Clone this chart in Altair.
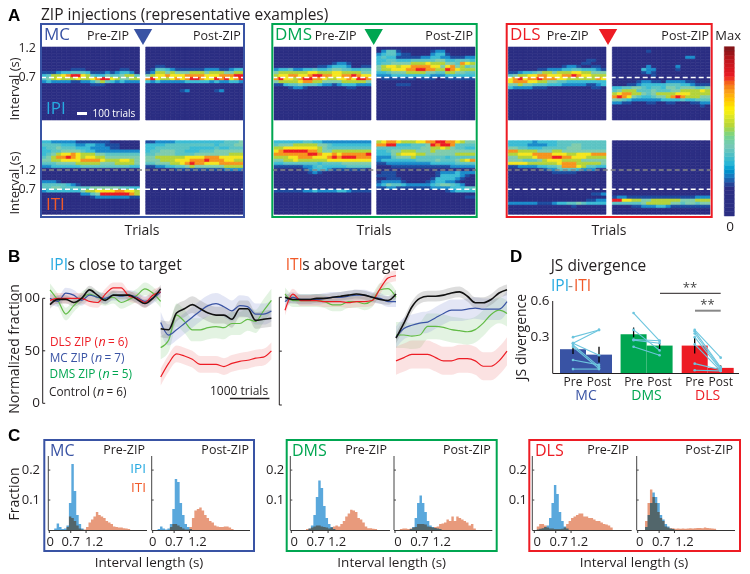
import altair as alt
import pandas as pd

FONT = "Open Sans"
INK = "#231f20"
BLUE, GREEN, RED = "#3953a4", "#00a651", "#ed1c24"
CYAN, ORANGE = "#27aae1", "#f15a29"
HEAT_COLORS = ["#2b2e83", "#1d4c9f", "#1a8ccb", "#3bbcd5", "#5cc4c4", "#80ccad", "#b4d33a", "#f5e61e", "#f7941d", "#ed1c24"]
BAR_STOPS = [0, 1.7, 2.3, 3.1, 4.2, 5.3, 6.3, 7.5, 8.2, 9.2, 10]
BAR_COLORS = ["#2b2e83", "#2b2e83", "#1f75bc", "#27b5d6", "#7cc8b5", "#b4d33a", "#fff200", "#f7941d", "#ed1c24", "#c0161c", "#7a1417"]

# ---------- panel A: heat maps, rows from the top, one digit per column ----------
H_MC_PRE_IPI = {7: "00000011100000001100", 8: "11123344431112123320", 9: "34667899764335445664",
                10: "45676667667899765566", 11: "23222211223564323222", 12: "00000000001110000000"}
H_MC_POST_IPI = {6: "00110000000000000000", 7: "01443211111122211233", 8: "12665655566656665566",
                 9: "56778777888877788899", 10: "89766787899877989789", 11: "32322222333332322332",
                 14: "00000001200000120000"}
H_DMS_PRE_IPI = {5: "00000000000012210000", 6: "00000000011233320011", 7: "23342233433455443344",
                 8: "56666667766677666655", 9: "67788778998877889877", 10: "89776899887667787998",
                 11: "56666788665555666665", 12: "11344544432212333222", 13: "00012210000000011000"}
H_DMS_POST_IPI = {1: "02441000000122000000", 2: "23442110000233100000", 3: "34331111122332211122",
                  4: "33443334444455334443", 5: "34455556667666554876", 6: "56776778888775785645",
                  7: "56677788998866987666", 8: "33455566665544665544", 9: "22233333333222333333",
                  10: "01111111011100111111", 12: "00001110000000000000"}
H_DLS_PRE_IPI = {4: "00000000000000001100", 5: "00000000000000011000", 6: "00000000000122100110",
                 7: "00000011222334433321", 8: "11233456656667766555", 9: "45667788777889877666",
                 10: "78978898887766666687", 11: "78887766554433333333", 12: "55655444333222221123",
                 13: "32222111000000000110"}
H_DLS_POST_IPI = {1: "00000001000000000000", 3: "00000000000000022000", 6: "00000002000002000000",
                  7: "00000032200001000000", 8: "00000012100000000000", 9: "00000000100000000000",
                  11: "00000122110222211000", 12: "00011233333444332111", 13: "33445543443554555445",
                  14: "45666444544455666676", 15: "67886654566667776666", 16: "89875433455689866655",
                  17: "55432222223333433444", 18: "22110001100110001122", 19: "00000000000000000010"}
H_MC_PRE_ITI = {0: "33222221111111000000", 1: "44443332233221110000", 2: "34454443332222110000",
                3: "33445555433222222222", 4: "34567787666554444444", 5: "45688987677665555555",
                6: "55667777888876667765", 7: "44455556666655566665", 8: "22333333444444444433",
                13: "22210000000000000000", 14: "44444321000000000000", 15: "44554444445555554433",
                16: "23333333566777788776", 17: "00000000224599999986", 18: "00000000001222222211"}
H_MC_POST_ITI = {0: "11222233333333334445", 1: "33334444444444344455", 2: "33444444433333433444",
                 3: "34455544333444555555", 4: "44555544445555555666", 5: "55666666777788877777",
                 6: "55566677788898887766", 7: "44555667898877788888", 8: "11223344565555556666",
                 9: "00000011111111112222"}
H_DMS_PRE_ITI = {0: "33333344332222222222", 1: "45556666655433333333", 2: "66777777765444444444",
                 3: "78999998865566666666", 4: "88888889987787888889", 5: "66677888777898999888",
                 6: "55667666666777777777", 7: "33444444434444555555", 8: "11111122343333344444",
                 9: "00000012333211111110", 10: "00000001210000000000", 16: "11111122322223321111"}
H_DMS_POST_ITI = {0: "67887666778899887655", 1: "88993334445989984444", 2: "44444444455667654433",
                  3: "33455666555655555555", 4: "33356777665555556666", 5: "22245556444444344444",
                  6: "23333333444454445678", 7: "11222222222333334444", 8: "00011111111111122222",
                  10: "01110000000012223222", 11: "11110000000013333210", 12: "00111000000133332100",
                  13: "12222100001233221000", 14: "23544322222345543200", 15: "11221111111222233344",
                  16: "00000000000000123333", 18: "00000000000000000011"}
H_DLS_PRE_ITI = {0: "33333233334444444444", 1: "33332222334445544444", 2: "55443334444455544444",
                 3: "88666655566555555555", 4: "66777888877766777888", 5: "55666788899887776666",
                 6: "55544456777666655555", 7: "77776666667888666665", 8: "11222233445888764433",
                 9: "00000001224444322200", 10: "00000000011111000000", 17: "00000000000000000112",
                 19: "00000000000000001122", 20: "22222211123344543333", 21: "00000000000001000000"}
H_DLS_POST_ITI = {18: "12211111111111111222", 19: "99776655666666555666", 20: "44444456666655455455",
                  21: "00001122233211111111"}

# ---------- panel B ----------
TRIALS_PRE = [-2800, -2600, -2400, -2200, -2000, -1800, -1600, -1400, -1200, -1000, -800, -600, -400, -200, 0]
TRIALS_POST = [0, 200, 400, 600, 800, 1000, 1200, 1400, 1600, 1800, 2000, 2200, 2400, 2600, 2800]
B1_PRE = {
    "black": [94, 99, 99, 96, 100, 108, 103, 98, 103, 103, 103, 99, 95, 100, 109],
    "blue": [100, 97, 105, 103, 98, 103, 101, 100, 103, 102, 103, 101, 97, 100, 106],
    "green": [108, 98, 85, 93, 100, 104, 101, 99, 101, 96, 99, 103, 109, 105, 97],
    "red": [98, 100, 100, 100, 100, 97, 96, 104, 110, 110, 102, 100, 96, 103, 106]}
B1_POST = {
    "black": [71, 70, 86, 90, 94, 90, 86, 84, 84, 80, 90, 90, 79, 80, 81],
    "blue": [77, 65, 70, 76, 82, 88, 93, 95, 92, 88, 93, 92, 85, 85, 88],
    "green": [53, 60, 84, 78, 70, 70, 72, 73, 72, 76, 76, 80, 78, 88, 98],
    "red": [25, 38, 47, 45, 42, 37, 37, 37, 35, 38, 40, 41, 43, 44, 50]}
B2_PRE = {
    "black": [100, 98, 98, 98, 99, 99, 100, 101, 102, 103, 102, 100, 98, 97, 103],
    "blue": [96, 100, 98, 98, 98, 99, 100, 100, 101, 102, 102, 100, 99, 96, 96],
    "green": [103, 97, 97, 97, 97, 96, 93, 93, 96, 96, 94, 97, 107, 108, 100],
    "red": [88, 103, 97, 97, 97, 96, 96, 96, 95, 96, 96, 97, 108, 118, 120]}
B2_POST = {
    "black": [62, 76, 91, 99, 101, 101, 102, 104, 105, 101, 95, 95, 98, 104, 107],
    "blue": [63, 71, 74, 76, 77, 81, 85, 88, 88, 89, 90, 89, 89, 89, 96],
    "green": [65, 65, 64, 65, 73, 73, 72, 70, 69, 68, 70, 76, 84, 88, 85],
    "red": [41, 44, 47, 47, 47, 44, 41, 41, 43, 43, 41, 36, 36, 41, 50]}
SEM_B1 = {"black": 8, "blue": 10, "green": 11, "red": 8}
SEM_B2 = {"black": 5, "blue": 10, "green": 12, "red": 13}
SEM_PRE = {"black": 4, "blue": 5, "green": 6, "red": 5}
LINE_COLORS = {"black": "#111111", "blue": BLUE, "green": "#62bb46", "red": RED}
BAND_COLORS = {"black": "#777777", "blue": "#8f9ad6", "green": "#8fce8a", "red": "#f08a8a"}

# ---------- panel C, bins of 0.08 s: (first bin, heights in thousandths) ----------
HIST = {
    "MC_PRE": ((2, [5, 22, 10, 3, 5, 15, 90, 220, 130, 50, 20, 5]),
               (7, [10, 45, 40, 30, 15, 5, 2, 2, 10, 25, 35, 45, 60, 50, 45, 40, 30, 25, 20, 12, 10, 8, 8, 6, 5, 3])),
    "MC_POST": ((2, [3, 12, 5, 2, 5, 20, 70, 170, 160, 90, 50, 20, 10, 3]),
                (7, [10, 20, 20, 15, 10, 5, 2, 2, 10, 40, 65, 70, 75, 65, 50, 40, 30, 25, 15, 12, 10, 10, 12, 12, 8, 3])),
    "DMS_PRE": ((7, [5, 15, 50, 110, 165, 140, 80, 40, 20, 10, 3]),
                (6, [3, 5, 8, 12, 15, 15, 12, 10, 8, 5, 8, 12, 15, 12, 20, 30, 45, 55, 68, 65, 60, 40, 35, 25, 12, 6, 6, 4, 3])),
    "DMS_POST": ((6, [3, 10, 40, 90, 115, 90, 60, 30, 15, 10, 7, 5, 3]),
                 (2, [3, 5, 5, 3, 5, 8, 10, 20, 20, 20, 18, 12, 10, 8, 10, 12, 20, 22, 25, 35, 30, 45, 30, 45, 40, 35, 30, 25, 15, 20, 5])),
    "DLS_PRE": ((1, [2, 4, 6, 10, 15, 40, 90, 150, 120, 60, 30, 12, 5]),
                (1, [12, 20, 20, 15, 8, 5, 5, 3, 3, 3, 4, 8, 20, 30, 40, 45, 50, 55, 55, 45, 45, 40, 40, 35, 30, 30, 25, 20, 18, 15, 8])),
    "DLS_POST": ((3, [10, 50, 90, 125, 110, 90, 50, 35, 20, 12, 5, 3]),
                 (3, [30, 90, 135, 110, 90, 60, 40, 30, 12, 8, 6, 6, 4, 5, 4, 5, 4, 5, 6, 5, 6, 7, 7, 6, 8, 7, 6, 5, 4])),
}

# ---------- panel D ----------
BAR_OFFSET = [0, 2.33, 4.68]
BAR_PRE = [0.20, 0.325, 0.23]
BAR_POST = [0.155, 0.23, 0.045]
BAR_FILL = [BLUE, GREEN, RED]
ERR_PRE = [(0.16, 0.245), (0.30, 0.38), (0.165, 0.30)]
ERR_POST = [(0.09, 0.22), (0.19, 0.25), (0.02, 0.065)]
PAIRS = [
    [(.30, .36), (.25, .36), (.25, .15), (.235, .055), (.22, .04), (.11, .07), (.035, .035)],
    [(.50, .27), (.36, .19), (.28, .27), (.275, .25), (.22, .15)],
    [(.36, .13), (.35, .05), (.33, .04), (.30, .03), (.24, .02), (.08, .03), (.025, .02)],
]
GROUPS = ["MC", "DMS", "DLS"]

layers = []


def S(dom, a, b):
    return alt.Scale(domain=dom, range=[a - 8, b - 8], zero=False, nice=False)


ONE = alt.Data(values=[{}])


def T(s, x, y, size=13, color=INK, align="left", angle=None, style=None, weight=None, font=FONT):
    kw = dict(fontSize=size, color=color, align=align, baseline="middle", font=font)
    if angle is not None:
        kw["angle"] = angle
    if style:
        kw["fontStyle"] = style
    if weight:
        kw["fontWeight"] = weight
    layers.append(alt.Chart(ONE).mark_text(**kw).encode(
        x=alt.value(x - 8), y=alt.value(y - 8), text=alt.value(s)))


def L(x1, x2, y1, y2, color=INK, w=1.0, dash=None):
    kw = dict(color=color, strokeWidth=w)
    if dash:
        kw["strokeDash"] = dash
    enc = dict(x=alt.value(x1 - 8), y=alt.value(y1 - 8))
    if x2 != x1:
        enc["x2"] = alt.value(x2 - 8)
    if y2 != y1:
        enc["y2"] = alt.value(y2 - 8)
    layers.append(alt.Chart(ONE).mark_rule(**kw).encode(**enc))


def frame(x1, x2, y1, y2, color):
    layers.append(alt.Chart(ONE).mark_rect(fillOpacity=0, stroke=color, strokeWidth=2).encode(
        x=alt.value(x1 - 8), x2=alt.value(x2 - 8), y=alt.value(y1 - 8), y2=alt.value(y2 - 8)))


def heat(rows, x1, x2, y_bot, y_top, dom, step):
    hi = dom[1]
    recs = []
    n = int(round((dom[1] - dom[0]) / step))
    for k in range(n):
        s = rows.get(k, "0" * 20)
        for c, ch in enumerate(s):
            recs.append(dict(c=c, c2=c + 1, top=hi - k * step, bot=max(dom[0], hi - (k + 1) * step), v=int(ch)))
    cs = alt.Scale(domain=list(range(10)), range=HEAT_COLORS)
    layers.append(alt.Chart(pd.DataFrame(recs)).mark_rect(strokeWidth=0.6).encode(
        x=alt.X("c:Q", scale=S([0, 20], x1, x2), axis=None), x2="c2:Q",
        y=alt.Y("bot:Q", scale=S(dom, y_bot, y_top), axis=None), y2="top:Q",
        color=alt.Color("v:Q", scale=cs, legend=None),
        stroke=alt.Stroke("v:Q", scale=cs, legend=None)))


# ---- A ----
T("A", 8, 16, 17, "#000", weight="bold", font="Liberation Sans")
T("ZIP injections (representative examples)", 41, 15, 15.5)
A_PANELS = [
    ("MC", BLUE, (41, 244), (41.7, 139.5), (145.7, 244), H_MC_PRE_IPI, H_MC_POST_IPI, H_MC_PRE_ITI, H_MC_POST_ITI, 143, 44, 108, 240.7),
    ("DMS", GREEN, (272.3, 476.7), (274, 371), (376.7, 475), H_DMS_PRE_IPI, H_DMS_POST_IPI, H_DMS_PRE_ITI, H_DMS_POST_ITI, 373.7, 275, 335.7, 473),
    ("DLS", RED, (506.7, 711.7), (508.3, 606), (612.3, 710), H_DLS_PRE_IPI, H_DLS_POST_IPI, H_DLS_PRE_ITI, H_DLS_POST_ITI, 608, 510, 567.7, 709),
]
IPI_DOM, ITI_DOM = [0, 1.2], [0.05, 1.96]
for name, col, fx, pre, post, h1, h2, h3, h4, tri, lx, prex, postx in A_PANELS:
    heat(h1, pre[0], pre[1], 120, 47, IPI_DOM, 0.05)
    heat(h2, post[0], post[1], 120, 47, IPI_DOM, 0.05)
    heat(h3, pre[0], pre[1], 214.3, 140.7, ITI_DOM, 0.0796)
    heat(h4, post[0], post[1], 214.3, 140.7, ITI_DOM, 0.0796)
    for v, c, dom, yb, yt in [(0.7, "#ffffff", IPI_DOM, 120, 47), (1.2, "#888888", ITI_DOM, 214.3, 140.7), (0.7, "#ffffff", ITI_DOM, 214.3, 140.7)]:
        layers.append(alt.Chart(pd.DataFrame({"v": [v]})).mark_rule(color=c, strokeWidth=1.5, strokeDash=[5, 3]).encode(
            y=alt.Y("v:Q", scale=S(dom, yb, yt), axis=None), x=alt.value(fx[0] - 8), x2=alt.value(fx[1] - 8)))
    frame(fx[0], fx[1], 24, 217, col)
    T(name, lx, 35, 17, col)
    T("Pre-ZIP", prex, 36, 12.5, align="center")
    T("Post-ZIP", postx, 36, 12.5, align="right")
    layers.append(alt.Chart(ONE).mark_point(shape="triangle-down", filled=True, opacity=1, size=340, color=col).encode(
        x=alt.value(tri - 8), y=alt.value(37 - 8)))

T("Interval (s)", 14.5, 89, 13, align="center", angle=270)
T("Interval (s)", 14.5, 183, 13, align="center", angle=270)
for s, y in [("1.2", 48), ("0.7", 77), ("1.2", 170), ("0.7", 189)]:
    T(s, 36, y, 12.5, align="right")
T("IPI", 46, 109, 17, CYAN)
T("ITI", 46, 205, 17, ORANGE)
L(77, 87, 113.5, 113.5, "#ffffff", 3)
T("100 trials", 92.5, 114, 10, "#ffffff")
for x in [142, 374, 609]:
    T("Trials", x, 231, 14, align="center")

# colour bar
cb = pd.DataFrame({"a": [i * 0.25 for i in range(40)], "b": [(i + 1) * 0.25 for i in range(40)], "v": [i * 0.25 + 0.125 for i in range(40)]})
cb_scale = alt.Scale(domain=BAR_STOPS, range=BAR_COLORS)
layers.append(alt.Chart(cb).mark_rect(strokeWidth=0.5).encode(
    y=alt.Y("a:Q", scale=S([0, 10], 216, 46.7), axis=None), y2="b:Q",
    x=alt.value(724.3 - 8), x2=alt.value(734.3 - 8),
    color=alt.Color("v:Q", scale=cb_scale, legend=None),
    stroke=alt.Stroke("v:Q", scale=cb_scale, legend=None)))
T("Max", 741, 36, 13, align="right")
T("0", 730, 227, 13.5, align="center")


# ---- B ----
def band_and_line(pre, post, sem, xs, ys, kind):
    for name in ["green", "blue", "red", "black"]:
        rows = []
        for seg, tr, vals, e in (("pre", TRIALS_PRE, pre[name], SEM_PRE[name]), ("post", TRIALS_POST, post[name], sem[name])):
            for t, v in zip(tr, vals):
                rows.append(dict(seg=seg, t=t, v=v, lo=v - e, hi=v + e))
        df = pd.DataFrame(rows)
        if kind == "band":
            layers.append(alt.Chart(df).mark_area(color=BAND_COLORS[name], opacity=0.25, interpolate="monotone").encode(
                x=alt.X("t:Q", scale=xs, axis=None), y=alt.Y("lo:Q", scale=ys, axis=None), y2="hi:Q", detail="seg:N"))
        else:
            layers.append(alt.Chart(df).mark_line(color=LINE_COLORS[name], strokeWidth=1.6 if name == "black" else 1.2, interpolate="monotone").encode(
                x=alt.X("t:Q", scale=xs, axis=None), y=alt.Y("v:Q", scale=ys, axis=None), detail="seg:N"))


xs1, ys1 = S([-2800, 2800], 50, 271.4), S([0, 100], 403.3, 298.3)
xs2, ys2 = S([-2800, 2800], 285, 507), S([0, 100], 405, 297.3)
for k in ("band", "line"):
    band_and_line(B1_PRE, B1_POST, SEM_B1, xs1, ys1, k)
    band_and_line(B2_PRE, B2_POST, SEM_B2, xs2, ys2, k)

for ax, ys in ((42.7, ys1), (279.3, ys2)):
    layers.append(alt.Chart(pd.DataFrame({"a": [0], "b": [100]})).mark_rule(color=INK, strokeWidth=1).encode(
        x=alt.value(ax - 8), y=alt.Y("a:Q", scale=ys, axis=None), y2="b:Q"))
    layers.append(alt.Chart(pd.DataFrame({"a": [0, 50, 100]})).mark_rule(color=INK, strokeWidth=1).encode(
        x=alt.value(ax - 8), x2=alt.value(ax - 8 + 2.5), y=alt.Y("a:Q", scale=ys, axis=None)))
layers.append(alt.Chart(pd.DataFrame({"a": [0, 50, 100]})).mark_text(font=FONT, fontSize=13.5, color=INK, align="right", baseline="middle").encode(
    x=alt.value(40 - 8), y=alt.Y("a:Q", scale=ys1, axis=None), text="a:Q"))
layers.append(alt.Chart(pd.DataFrame({"a": [1750], "b": [2750]})).mark_rule(color=INK, strokeWidth=1.5).encode(
    x=alt.X("a:Q", scale=xs1, axis=None), x2="b:Q", y=alt.value(398.5 - 8)))
T("1000 trials", 239, 390.5, 12, align="center")
T("B", 8, 257, 17, "#000", weight="bold", font="Liberation Sans")
T("IPI", 50, 265, 15.5, CYAN)
T("s close to target", 67.5, 265, 15.5)
T("ITI", 285.7, 265, 15.5, ORANGE)
T("s above target", 302.3, 265, 15.5)
T("Normalized fraction", 14.5, 349, 14, align="center", angle=270)
LEGEND = [("DLS ZIP (", "= 6)", RED, 341.7, 98), ("MC ZIP (", "= 7)", BLUE, 357.7, 94.5),
          ("DMS ZIP (", "= 5)", GREEN, 374, 102), ("Control (", "= 6)", INK, 391.7, 96.5)]
for a, b, c, y, nx in LEGEND:
    T(a, nx, y, 11.8, c, align="right")
    T("n", nx + 0.5, y, 12.5, c, style="italic")
    T(b, nx + 10, y, 11.8, c)

# ---- D ----
xd, yd = S([0, 6.68], 560, 733.7), S([0, 0.6], 373.3, 301)
for i, g in enumerate(GROUPS):
    o = BAR_OFFSET[i]
    layers.append(alt.Chart(pd.DataFrame({"a": [o, o + 1], "b": [o + 1, o + 2], "v": [BAR_PRE[i], BAR_POST[i]], "z": [0, 0]})).mark_rect(color=BAR_FILL[i]).encode(
        x=alt.X("a:Q", scale=xd, axis=None), x2="b:Q", y=alt.Y("z:Q", scale=yd, axis=None), y2="v:Q"))
for i, g in enumerate(GROUPS):
    o = BAR_OFFSET[i]
    er = pd.DataFrame({"x": [o + .5, o + 1.5], "lo": [ERR_PRE[i][0], ERR_POST[i][0]], "hi": [ERR_PRE[i][1], ERR_POST[i][1]]})
    layers.append(alt.Chart(er).mark_rule(color="#000", strokeWidth=1.3).encode(
        x=alt.X("x:Q", scale=xd, axis=None), y=alt.Y("lo:Q", scale=yd, axis=None), y2="hi:Q"))
    rows = []
    for j, (p, q) in enumerate(PAIRS[i]):
        rows += [dict(id=j, x=o + .5, v=p), dict(id=j, x=o + 1.5, v=q)]
    df = pd.DataFrame(rows)
    layers.append(alt.Chart(df).mark_line(color="#6cc5de", strokeWidth=1.1).encode(
        x=alt.X("x:Q", scale=xd, axis=None), y=alt.Y("v:Q", scale=yd, axis=None), detail="id:N"))
    layers.append(alt.Chart(df).mark_point(color="#6cc5de", filled=True, opacity=1, size=7).encode(
        x=alt.X("x:Q", scale=xd, axis=None), y=alt.Y("v:Q", scale=yd, axis=None)))
    lab = pd.DataFrame({"x": [o + .5, o + 1.5], "s": ["Pre", "Post"]})
    layers.append(alt.Chart(lab).mark_text(font=FONT, fontSize=12, color=INK, baseline="middle").encode(
        x=alt.X("x:Q", scale=xd, axis=None), y=alt.value(381.7 - 8), text="s:N"))
    layers.append(alt.Chart(pd.DataFrame({"x": [o + 1], "s": [g]})).mark_text(font=FONT, fontSize=14, color=BAR_FILL[i], baseline="middle").encode(
        x=alt.X("x:Q", scale=xd, axis=None), y=alt.value(396 - 8), text="s:N"))
layers.append(alt.Chart(pd.DataFrame({"a": [0], "b": [0.6]})).mark_rule(color=INK, strokeWidth=1).encode(
    x=alt.value(552.7 - 8), y=alt.Y("a:Q", scale=yd, axis=None), y2="b:Q"))
L(552.7, 739, 373.5, 373.5, INK, 1)
layers.append(alt.Chart(pd.DataFrame({"a": [0.3, 0.6], "s": ["0.3", "0.6"]})).mark_text(font=FONT, fontSize=13.5, color=INK, align="right", baseline="middle").encode(
    x=alt.value(549.5 - 8), y=alt.Y("a:Q", scale=yd, axis=None), text="s:N"))
L(660, 720.7, 293.3, 293.3, INK, 1)
L(695, 720.7, 310.7, 310.7, "#888888", 2)
T("**", 690, 288, 13, "#444", align="center")
T("**", 707.5, 305, 13, "#444", align="center")
T("D", 510, 257, 17, "#000", weight="bold", font="Liberation Sans")
T("JS divergence", 550.7, 266, 15.5)
T("IPI", 551, 286, 15.5, CYAN)
T("-", 568, 286, 15.5, "#888")
T("ITI", 574, 286, 15.5, ORANGE)
T("JS divergence", 521.7, 337, 14, align="center", angle=270)

# ---- C ----
C_PANELS = [
    ("MC", BLUE, (44.3, 254), "MC_PRE", "MC_POST", (48.3, 49.3, 147), (151.7, 152.7, 250), 40, 50, 145, 249, [(1, 0, 8), (0, 0, 8)], 149),
    ("DMS", GREEN, (286.7, 496.7), "DMS_PRE", "DMS_POST", (290.3, 291.3, 390), (394, 395, 492.3), 284.3, 292, 387, 490.7, [(3, 3, 9), (3, 3, 10)], 391.7),
    ("DLS", RED, (529.3, 740), "DLS_PRE", "DLS_POST", (532.3, 534.3, 631.7), (636.7, 637.7, 735), 527, 535, 629, 733, [(3, 3, 8), (2, 2, 10)], 634),
]
yh_scale = lambda: S([0, 0.247], 530, 456)
for name, col, fx, k1, k2, ax1, ax2, tickr, lx, prex, postx, dxs, cx in C_PANELS:
    for key, (ax, zero, end), dx in ((k1, ax1, dxs[0]), (k2, ax2, dxs[1])):
        xh = S([0, 3.2], zero, zero + 98)
        yh = yh_scale()
        for (first, vals), color in zip(HIST[key], ("#5aa8dc", "#e89a7c")):
            last = first + len(vals)
            df = pd.DataFrame([dict(a=(first + i) * 0.08, v=v / 1000, z=0) for i, v in enumerate(vals)] + [dict(a=last * 0.08, v=0, z=0)])
            layers.append(alt.Chart(df).mark_area(color=color, blend="multiply", interpolate="step-after").encode(
                x=alt.X("a:Q", scale=xh, axis=None), y=alt.Y("v:Q", scale=yh, axis=None), y2="z:Q"))
        L(ax, end, 530.5, 530.5, "#333333", 1)
        layers.append(alt.Chart(pd.DataFrame({"a": [0], "b": [0.247]})).mark_rule(color="#444444", strokeWidth=1).encode(
            x=alt.value(ax - 8), y=alt.Y("a:Q", scale=yh, axis=None), y2="b:Q"))
        layers.append(alt.Chart(pd.DataFrame({"a": [0.1, 0.2]})).mark_rule(color="#444444", strokeWidth=1).encode(
            x=alt.value(ax - 8), x2=alt.value(ax - 8 + 2), y=alt.Y("a:Q", scale=yh, axis=None)))
        layers.append(alt.Chart(pd.DataFrame({"a": [0, 0.7, 1.2]})).mark_rule(color="#333333", strokeWidth=1).encode(
            x=alt.X("a:Q", scale=xh, axis=None), y=alt.value(530.5 - 8), y2=alt.value(533 - 8)))
        for v, s, d in zip([0, 0.7, 1.2], ["0", "0.7", "1.2"], dx):
            layers.append(alt.Chart(pd.DataFrame({"a": [v], "s": [s]})).mark_text(font=FONT, fontSize=13, color=INK, baseline="middle", dx=d).encode(
                x=alt.X("a:Q", scale=xh, axis=None), y=alt.value(542 - 8), text="s:N"))
    frame(fx[0], fx[1], 440, 551, col)
    T(name, lx, 451, 16, col)
    T("Pre-ZIP", prex, 450, 12.5, align="right")
    T("Post-ZIP", postx, 450, 12.5, align="right")
    yh = yh_scale()
    layers.append(alt.Chart(pd.DataFrame({"a": [0.1, 0.2]})).mark_text(font=FONT, fontSize=13, color=INK, align="right", baseline="middle").encode(
        x=alt.value(tickr - 8), y=alt.Y("a:Q", scale=yh, axis=None), text="a:Q"))
    T("Interval length (s)", cx, 563, 13.5, align="center")
T("IPI", 146, 469, 13.5, CYAN, align="right")
T("ITI", 146, 488, 13.5, ORANGE, align="right")
T("C", 8, 436, 17, "#000", weight="bold", font="Liberation Sans")
T("Fraction", 14.5, 494, 14, align="center", angle=270)

chart = alt.layer(*layers).resolve_scale(x="independent", y="independent", color="independent", stroke="independent").properties(
    width=734, height=565, padding=0, autosize=alt.AutoSizeParams(type="none"),
).configure_view(stroke=None)
chart.save("out.html", embed_options={"renderer": "svg", "actions": False})
